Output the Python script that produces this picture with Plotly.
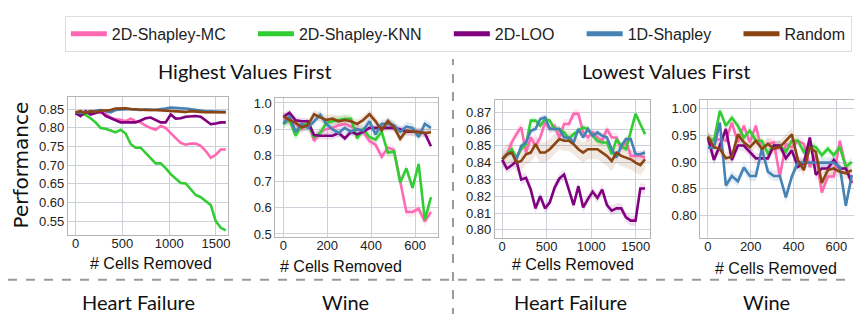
import plotly.graph_objects as go

# ---------------- data ----------------
SERIES = ["2D-Shapley-MC", "2D-Shapley-KNN", "2D-LOO", "1D-Shapley", "Random"]
COLORS = ["#ff69b4", "#32cd32", "#800080", "#4682b4", "#8b4513"]
FILLS = ["rgba(255,105,180,0.15)", "rgba(50,205,50,0.15)", "rgba(128,0,128,0.12)",
         "rgba(70,130,180,0.15)", "rgba(139,69,19,0.12)"]

HF_X = [0, 53.5, 107, 160.5, 214, 267.5, 321, 374.5, 428, 481.5, 535, 588.5, 642, 695.5,
        749, 802.5, 856, 909.5, 963, 1016.5, 1070, 1123.5, 1177, 1230.5, 1284, 1337.5,
        1391, 1444.5, 1498, 1551.5, 1605]
WINE_X = [0, 28, 56, 84, 112, 140, 168, 196, 224, 252, 280, 308, 336, 364, 392, 420,
          448, 476, 504, 532, 560, 588, 616, 644, 672]

# Heart Failure, highest values first
hf_high_mc = [0.840, 0.835, 0.838, 0.845, 0.842, 0.840, 0.838, 0.828, 0.823, 0.822, 0.818,
              0.825, 0.818, 0.815, 0.806, 0.800, 0.795, 0.805, 0.800, 0.786, 0.772, 0.760,
              0.755, 0.758, 0.758, 0.752, 0.738, 0.720, 0.728, 0.742, 0.742]
hf_high_knn = [0.842, 0.838, 0.835, 0.826, 0.815, 0.800, 0.798, 0.793, 0.788, 0.795, 0.785,
               0.757, 0.747, 0.747, 0.733, 0.718, 0.705, 0.705, 0.692, 0.676, 0.665, 0.652,
               0.651, 0.636, 0.620, 0.614, 0.603, 0.593, 0.550, 0.532, 0.525]
hf_high_loo = [0.840, 0.832, 0.845, 0.836, 0.840, 0.845, 0.832, 0.827, 0.820, 0.815, 0.815,
               0.815, 0.815, 0.820, 0.826, 0.828, 0.822, 0.815, 0.815, 0.836, 0.825, 0.826,
               0.830, 0.832, 0.832, 0.830, 0.820, 0.810, 0.812, 0.815, 0.815]
hf_high_1d = [0.842, 0.840, 0.842, 0.845, 0.846, 0.848, 0.845, 0.842, 0.848, 0.850, 0.850,
              0.850, 0.849, 0.848, 0.850, 0.848, 0.849, 0.850, 0.852, 0.855, 0.855, 0.853,
              0.852, 0.850, 0.848, 0.846, 0.845, 0.845, 0.843, 0.843, 0.843]
hf_high_rand = [0.842, 0.845, 0.840, 0.845, 0.843, 0.847, 0.847, 0.848, 0.852, 0.853, 0.853,
                0.851, 0.850, 0.848, 0.848, 0.849, 0.848, 0.847, 0.846, 0.847, 0.846, 0.845,
                0.843, 0.845, 0.845, 0.843, 0.842, 0.842, 0.840, 0.842, 0.842]
hf_high_spread = [0.004, 0.003, 0.004, 0.004, 0.004]

# Wine, highest values first
wine_high_mc = [0.935, 0.930, 0.920, 0.900, 0.925, 0.855, 0.890, 0.900, 0.905, 0.915, 0.920,
                0.910, 0.900, 0.890, 0.855, 0.840, 0.795, 0.830, 0.820, 0.696, 0.584, 0.584,
                0.596, 0.548, 0.584]
wine_high_knn = [0.920, 0.935, 0.875, 0.915, 0.920, 0.870, 0.885, 0.925, 0.930, 0.935, 0.940,
                 0.940, 0.865, 0.900, 0.870, 0.860, 0.890, 0.810, 0.815, 0.696, 0.750, 0.676,
                 0.767, 0.554, 0.640]
wine_high_loo = [0.947, 0.963, 0.934, 0.930, 0.930, 0.878, 0.875, 0.875, 0.875, 0.885, 0.865,
                 0.890, 0.880, 0.890, 0.905, 0.905, 0.905, 0.905, 0.905, 0.900, 0.890, 0.890,
                 0.890, 0.885, 0.835]
wine_high_1d = [0.920, 0.950, 0.890, 0.920, 0.905, 0.930, 0.955, 0.920, 0.900, 0.885, 0.905,
                0.890, 0.900, 0.895, 0.930, 0.880, 0.920, 0.920, 0.915, 0.890, 0.910, 0.905,
                0.870, 0.920, 0.905]
wine_high_rand = [0.950, 0.935, 0.925, 0.907, 0.915, 0.957, 0.945, 0.935, 0.940, 0.930, 0.935,
                  0.930, 0.920, 0.935, 0.957, 0.930, 0.895, 0.932, 0.907, 0.863, 0.894, 0.890,
                  0.888, 0.885, 0.888]
wine_high_spread = [0.018, 0.018, 0.014, 0.018, 0.018]

# Heart Failure, lowest values first
hf_low_mc = [0.842, 0.845, 0.852, 0.857, 0.861, 0.846, 0.855, 0.850, 0.855, 0.864, 0.860,
             0.862, 0.855, 0.863, 0.863, 0.869, 0.869, 0.858, 0.855, 0.858, 0.855, 0.853,
             0.860, 0.855, 0.855, 0.848, 0.853, 0.844, 0.844, 0.844, 0.843]
hf_low_knn = [0.842, 0.845, 0.848, 0.843, 0.848, 0.851, 0.865, 0.865, 0.862, 0.866, 0.865,
              0.860, 0.860, 0.858, 0.854, 0.857, 0.859, 0.861, 0.860, 0.856, 0.853, 0.852,
              0.852, 0.845, 0.854, 0.850, 0.848, 0.858, 0.869, 0.863, 0.857]
hf_low_loo = [0.8416, 0.8365, 0.8384, 0.8410, 0.8300, 0.8310, 0.8240, 0.8128, 0.8200, 0.8128,
              0.8164, 0.8250, 0.8305, 0.8330, 0.8240, 0.8148, 0.8260, 0.8134, 0.8183, 0.8227,
              0.8190, 0.8240, 0.8148, 0.8114, 0.8128, 0.8128, 0.8075, 0.8055, 0.8055, 0.8246,
              0.8246]
hf_low_1d = [0.842, 0.845, 0.846, 0.842, 0.850, 0.852, 0.859, 0.860, 0.866, 0.867, 0.860,
             0.860, 0.860, 0.855, 0.855, 0.852, 0.860, 0.855, 0.860, 0.856, 0.858, 0.856,
             0.855, 0.848, 0.843, 0.850, 0.854, 0.854, 0.845, 0.845, 0.846]
hf_low_rand = [0.842, 0.845, 0.846, 0.840, 0.841, 0.845, 0.846, 0.851, 0.846, 0.846, 0.848,
               0.851, 0.854, 0.853, 0.853, 0.851, 0.848, 0.846, 0.848, 0.848, 0.848, 0.846,
               0.844, 0.841, 0.846, 0.844, 0.843, 0.842, 0.840, 0.8385, 0.842]
hf_low_spread = [0.003, 0.002, 0.003, 0.002, 0.006]

# Wine, lowest values first
wine_low_mc = [0.946, 0.940, 0.943, 0.940, 0.974, 0.937, 0.968, 0.937, 0.968, 0.922, 0.934,
               0.937, 0.873, 0.934, 0.928, 0.940, 0.934, 0.891, 0.913, 0.843, 0.873, 0.873,
               0.940, 0.891, 0.864]
wine_low_knn = [0.946, 0.940, 0.996, 0.968, 0.983, 0.968, 0.946, 0.959, 0.940, 0.940, 0.916,
                0.931, 0.931, 0.919, 0.940, 0.940, 0.919, 0.931, 0.928, 0.913, 0.925, 0.913,
                0.928, 0.891, 0.900]
wine_low_loo = [0.946, 0.904, 0.931, 0.962, 0.904, 0.931, 0.931, 0.919, 0.907, 0.907, 0.907,
                0.931, 0.931, 0.907, 0.922, 0.891, 0.898, 0.946, 0.876, 0.888, 0.888, 0.904,
                0.888, 0.888, 0.861]
wine_low_1d = [0.927, 0.927, 0.974, 0.856, 0.874, 0.864, 0.890, 0.874, 0.874, 0.925, 0.882,
               0.874, 0.874, 0.834, 0.873, 0.899, 0.899, 0.899, 0.899, 0.899, 0.899, 0.899,
               0.891, 0.818, 0.876]
wine_low_rand = [0.948, 0.928, 0.925, 0.907, 0.910, 0.952, 0.937, 0.928, 0.940, 0.925, 0.934,
                 0.925, 0.928, 0.940, 0.952, 0.904, 0.885, 0.928, 0.919, 0.861, 0.885, 0.888,
                 0.882, 0.879, 0.885]
wine_low_spread = [0.010, 0.008, 0.010, 0.010, 0.012]

PANELS = [
    (HF_X, [hf_high_mc, hf_high_knn, hf_high_loo, hf_high_1d, hf_high_rand], hf_high_spread),
    (WINE_X, [wine_high_mc, wine_high_knn, wine_high_loo, wine_high_1d, wine_high_rand], wine_high_spread),
    (HF_X, [hf_low_mc, hf_low_knn, hf_low_loo, hf_low_1d, hf_low_rand], hf_low_spread),
    (WINE_X, [wine_low_mc, wine_low_knn, wine_low_loo, wine_low_1d, wine_low_rand], wine_low_spread),
]

X_TICKS = [[0, 500, 1000, 1500], [0, 200, 400, 600], [0, 500, 1000, 1500], [0, 200, 400, 600]]
Y_TICKS = [[0.55, 0.60, 0.65, 0.70, 0.75, 0.80, 0.85],
           [0.5, 0.6, 0.7, 0.8, 0.9, 1.0],
           [0.80, 0.81, 0.82, 0.83, 0.84, 0.85, 0.86, 0.87],
           [0.80, 0.85, 0.90, 0.95, 1.00]]
Y_FMT = [".2f", ".1f", ".2f", ".2f"]
X_RANGE = [[-82, 1634], [-36, 704], [-82, 1655], [-35, 701]]
Y_RANGE = [[0.513, 0.883], [0.489, 1.019], [0.7953, 0.8773], [0.758, 1.0165]]

W, H = 862, 314
PIX_X = [(60, 221), (268, 431), (488, 643), (694, 852)]
PIX_Y = [(89, 230), (90, 232), (92, 233), (92, 233)]

NARROW = "Liberation Sans Narrow, Arial Narrow, Liberation Sans, Arial, sans-serif"
SANS = "Liberation Sans, Arial, sans-serif"
DEJAVU = "DejaVu Sans, sans-serif"
NBSP = "\u00a0"
LEGEND_PAD = [5, 5, 5, 5, 0]

fig = go.Figure()

for p, (xs, ys_list, spreads) in enumerate(PANELS):
    ax = "" if p == 0 else str(p + 1)
    for s, ys in enumerate(ys_list):
        upper = [v + spreads[s] for v in ys]
        lower = [v - spreads[s] for v in ys]
        fig.add_trace(go.Scatter(x=xs, y=upper, mode="lines", line=dict(width=0),
                                 hoverinfo="skip", showlegend=False,
                                 xaxis="x" + ax, yaxis="y" + ax))
        fig.add_trace(go.Scatter(x=xs, y=lower, mode="lines", line=dict(width=0),
                                 fill="tonexty", fillcolor=FILLS[s], hoverinfo="skip",
                                 showlegend=False, xaxis="x" + ax, yaxis="y" + ax))
    for s, ys in enumerate(ys_list):
        fig.add_trace(go.Scatter(x=xs, y=ys, mode="lines", name=SERIES[s],
                                 line=dict(color=COLORS[s], width=2.6), showlegend=False,
                                 xaxis="x" + ax, yaxis="y" + ax))

# legend entries (thicker swatches)
for s in range(5):
    fig.add_trace(go.Scatter(x=[None], y=[None], mode="lines",
                             name=SERIES[s] + NBSP * LEGEND_PAD[s],
                             line=dict(color=COLORS[s], width=5), showlegend=True))

layout = dict(
    width=W, height=H, margin=dict(l=0, r=0, t=0, b=0),
    paper_bgcolor="white", plot_bgcolor="white",
    showlegend=True,
    legend=dict(orientation="h", traceorder="normal", x=57 / W, xanchor="left",
                y=1 - 6 / H, yanchor="top",
                bordercolor="#dddddd", borderwidth=1,
                font=dict(size=16, family=SANS, color="#222"),
                itemwidth=36, tracegroupgap=0),
)

for p in range(4):
    ax = "" if p == 0 else str(p + 1)
    x0, x1 = PIX_X[p]
    y0, y1 = PIX_Y[p]
    common = dict(showgrid=True, gridcolor="#cdd2da", gridwidth=1, showline=True, mirror=True,
                  linecolor="#b5b5b5", linewidth=1, zeroline=False, ticks="",
                  tickfont=dict(size=13, family=NARROW, color="#222"))
    layout["xaxis" + ax] = dict(common, domain=[x0 / W, x1 / W], range=X_RANGE[p],
                                tickvals=X_TICKS[p], anchor="y" + ax, ticklabelstandoff=-3)
    layout["yaxis" + ax] = dict(common, domain=[1 - y1 / H, 1 - y0 / H], range=Y_RANGE[p],
                                tickvals=Y_TICKS[p], tickformat=Y_FMT[p], anchor="x" + ax)

fig.update_layout(**layout)

# annotations
ann = []
def text(x, y, t, size, family, angle=0):
    ann.append(dict(x=x / W, y=1 - y / H, xref="paper", yref="paper", text=t, showarrow=False,
                    xanchor="center", yanchor="middle", textangle=angle,
                    font=dict(size=size, family=family, color="#111")))

TITLE_FONT = "Lato, Open Sans, sans-serif"
text(238, 62, "Highest Values First", 20, TITLE_FONT)
text(660, 62, "Lowest Values First", 20, TITLE_FONT)
for cx, cy in [(143, 259), (334, 262), (566, 260), (770, 264)]:
    text(cx, cy, "# Cells Removed", 16, NARROW)
for cx, t in [(131, "Heart Failure"), (338, "Wine"), (564, "Heart Failure"), (760, "Wine")]:
    text(cx, 299, t, 20, TITLE_FONT)
text(14, 158, "Performance", 20, DEJAVU, angle=-90)
fig.update_layout(annotations=ann)

fig.add_shape(type="line", xref="paper", yref="paper", x0=446 / W, x1=446 / W,
              y0=0, y1=1 - 50 / H, line=dict(color="#9a9a9a", width=2, dash="dash"))
fig.add_shape(type="line", xref="paper", yref="paper", x0=0, x1=1,
              y0=1 - 276 / H, y1=1 - 276 / H, line=dict(color="#9a9a9a", width=2, dash="dash"))

fig.write_html("out.html")
